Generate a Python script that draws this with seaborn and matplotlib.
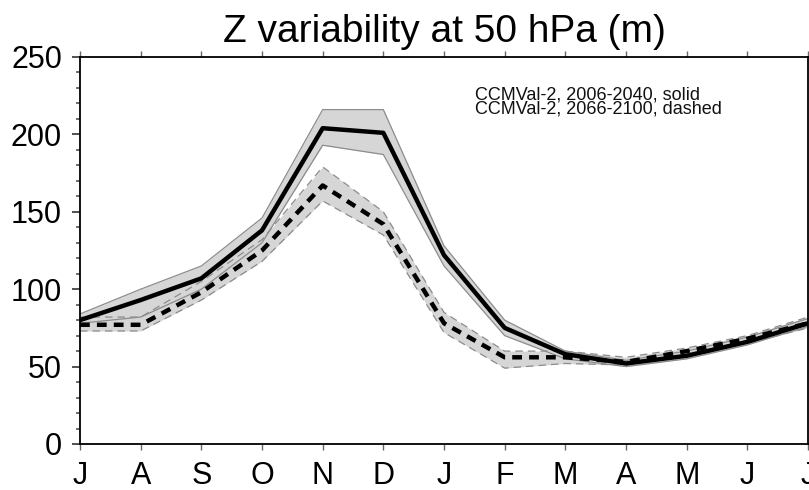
import matplotlib
matplotlib.use("Agg")
import matplotlib.pyplot as plt
import seaborn as sns
import pandas as pd
import numpy as np
from matplotlib.ticker import MultipleLocator

months = ["J", "A", "S", "O", "N", "D", "J", "F", "M", "A", "M", "J", "J"]

solid_mean = [80, 93, 107, 138, 204, 201, 122, 75, 58, 52, 57, 66, 78]
solid_upper = [84, 100, 115, 146, 216, 216, 128, 80, 60, 54, 60, 69, 81]
solid_lower = [78, 82, 100, 130, 193, 187, 115, 70, 55, 50, 55, 64, 76]

dashed_mean = [77, 77, 98, 125, 167, 142, 78, 56, 56, 53, 60, 68, 78]
dashed_upper = [82, 82, 105, 132, 179, 150, 85, 60, 60, 56, 62, 70, 82]
dashed_lower = [73, 73, 93, 118, 157, 135, 72, 49, 52, 51, 57, 65, 75]

legend_lines = ["CCMVal-2, 2006-2040, solid", "CCMVal-2, 2066-2100, dashed"]

sns.set_style("white")
plt.rcParams["font.family"] = ["Liberation Sans", "DejaVu Sans"]
plt.rcParams["text.color"] = "black"
plt.rcParams["xtick.labelcolor"] = "black"
plt.rcParams["ytick.labelcolor"] = "black"

x = np.arange(len(months))
df = pd.DataFrame({
    "x": np.concatenate([x, x]),
    "z": solid_mean + dashed_mean,
    "period": ["2006-2040"] * len(x) + ["2066-2100"] * len(x),
})

fig = plt.figure(figsize=(8.09, 4.90), dpi=100)
ax = fig.add_axes([0.0989, 0.0939, 0.8999, 0.7898])

band = "#d6d6d6"
ax.fill_between(x, solid_lower, solid_upper, color=band, lw=0, zorder=1)
ax.fill_between(x, dashed_lower, dashed_upper, color=band, lw=0, zorder=1)
for arr in (solid_upper, solid_lower):
    ax.plot(x, arr, color="#8c8c8c", lw=0.9, zorder=2)
for arr in (dashed_upper, dashed_lower):
    ax.plot(x, arr, color="#8c8c8c", lw=0.9, ls=(0, (6, 4)), zorder=2)

sns.lineplot(data=df, x="x", y="z", style="period", color="black", linewidth=3.2,
             dashes={"2006-2040": "", "2066-2100": (2.2, 1.6)}, legend=False,
             ax=ax, zorder=3)

ax.set_xlim(0, 12)
ax.set_ylim(0, 250)
ax.set_xticks(x)
ax.set_xticklabels(months, fontsize=22)
ax.set_yticks(range(0, 251, 50))
ax.set_yticklabels([str(v) for v in range(0, 251, 50)], fontsize=22)
ax.yaxis.set_minor_locator(MultipleLocator(10))
ax.tick_params(axis="y", which="major", direction="out", length=6, width=1.2,
               left=True, color="#333333", pad=7)
ax.tick_params(axis="y", which="minor", direction="out", length=3, width=1.2,
               left=True, color="#555555")
ax.tick_params(axis="x", which="major", direction="out", length=4, width=1.0,
               bottom=True, top=True, color="#666666", pad=8)
ax.set_xlabel("")
ax.set_ylabel("")
for s in ax.spines.values():
    s.set_color("black")
    s.set_linewidth(1.3)

ax.set_title("Z variability at 50 hPa (m)", fontsize=28, pad=11, color="black")
ax.text(0.543, 0.925, "\n".join(legend_lines), transform=ax.transAxes, fontsize=13,
        va="top", ha="left", color="#111111", linespacing=0.8)

fig.savefig("out.png", dpi=100)
